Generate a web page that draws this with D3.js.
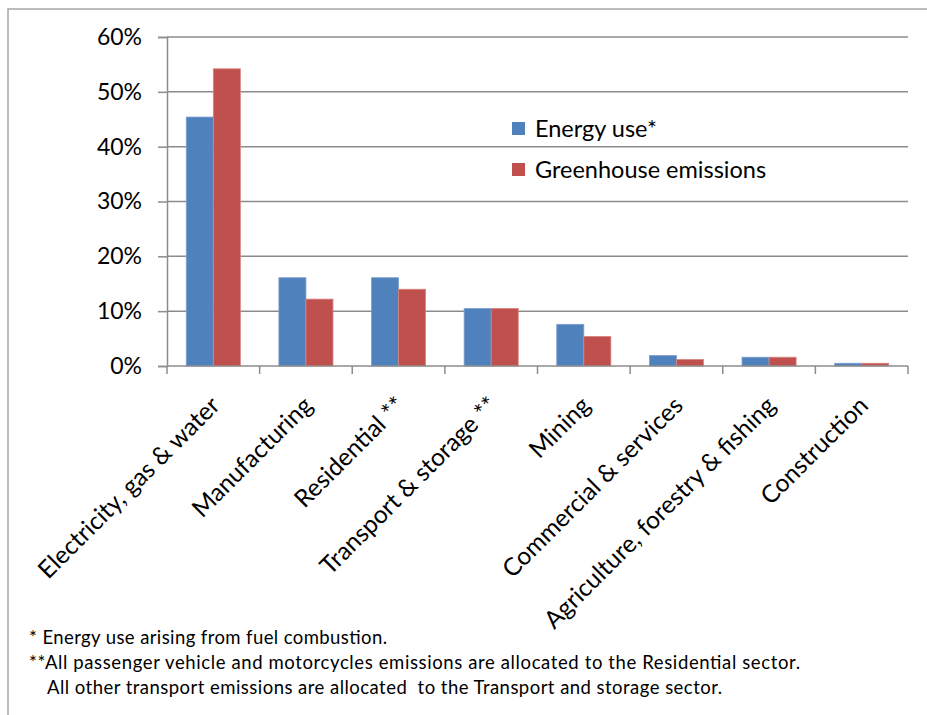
<!DOCTYPE html>
<html>
<head>
<meta charset="utf-8">
<script src="https://cdn.jsdelivr.net/npm/d3@7/dist/d3.min.js"></script>
<style>
  html, body { margin: 0; padding: 0; background: #fff; }
  svg { display: block; }
  text { font-family: Lato, "Open Sans", sans-serif; fill: #000; }
  .note { white-space: pre; }
</style>
</head>
<body>
<svg id="chart" width="927" height="715"></svg>
<script>
// Share of energy use and greenhouse emissions by sector
const categories = [
  "Electricity, gas & water",
  "Manufacturing",
  "Residential **",
  "Transport & storage **",
  "Mining",
  "Commercial & services",
  "Agriculture, forestry & fishing",
  "Construction"
];
const seriesNames = ["Energy use*", "Greenhouse emissions"];
const energyUse = [0.454, 0.161, 0.161, 0.105, 0.076, 0.019, 0.016, 0.005];
const greenhouse = [0.542, 0.122, 0.140, 0.105, 0.054, 0.012, 0.016, 0.005];
const yTicks = [0, 0.1, 0.2, 0.3, 0.4, 0.5, 0.6];
const colors = ["#4F81BD", "#C0504D"];
const footnotes = [
  "* Energy use arising from fuel combustion.",
  "**All passenger vehicle and motorcycles emissions are allocated to the Residential sector.",
  "All other transport emissions are allocated  to the Transport and storage sector."
];

const svg = d3.select("#chart");
const plot = { left: 167, right: 908, top: 37, bottom: 366 };
const gridColor = "#8c8c8c";

// outer frame
svg.append("rect")
  .attr("x", 8).attr("y", 9)
  .attr("width", 1000).attr("height", 1000)
  .attr("fill", "none").attr("stroke", "#a6a6a6").attr("stroke-width", 1.5);

const x0 = d3.scaleBand().domain(categories).range([plot.left, plot.right]);
const step = x0.step();
const pad = step * 0.208;
const x1 = d3.scaleBand().domain(seriesNames).range([pad, step - pad]);
const y = d3.scaleLinear().domain([0, 0.6]).range([plot.bottom, plot.top]);

// horizontal gridlines
svg.append("g").selectAll("line").data(yTicks.slice(1)).join("line")
  .attr("x1", plot.left).attr("x2", plot.right)
  .attr("y1", d => y(d)).attr("y2", d => y(d))
  .attr("stroke", gridColor).attr("stroke-width", 1.5);

// y axis
const yAxis = svg.append("g")
  .attr("transform", `translate(${plot.left},0)`)
  .call(d3.axisLeft(y).tickValues(yTicks).tickFormat(d3.format(".0%")).tickSize(9).tickPadding(16));
yAxis.select(".domain").attr("stroke", gridColor).attr("stroke-width", 1.5);
yAxis.selectAll(".tick line").attr("stroke", gridColor).attr("stroke-width", 1.5);
yAxis.selectAll(".tick text")
  .attr("font-size", 23).attr("font-family", "Lato, sans-serif").attr("fill", "#000");

// bars
const rows = categories.map((c, i) => ({ cat: c, vals: [energyUse[i], greenhouse[i]] }));
const groups = svg.append("g").selectAll("g").data(rows).join("g")
  .attr("transform", d => `translate(${x0(d.cat)},0)`);
groups.selectAll("rect").data(d => d.vals.map((v, k) => ({ name: seriesNames[k], v, k })))
  .join("rect")
  .attr("x", d => x1(d.name))
  .attr("width", x1.bandwidth())
  .attr("y", d => y(d.v))
  .attr("height", d => y(0) - y(d.v))
  .attr("fill", d => colors[d.k])
  .attr("stroke", d => d.k === 0 ? "#7f9fcf" : "#d98582")
  .attr("stroke-width", 0.8);

// x axis baseline and category ticks
const xAxisG = svg.append("g");
xAxisG.append("line")
  .attr("x1", plot.left).attr("x2", plot.right)
  .attr("y1", y(0)).attr("y2", y(0))
  .attr("stroke", gridColor).attr("stroke-width", 1.5);
const bounds = categories.map(c => x0(c)).concat([plot.right]);
xAxisG.selectAll(".xt").data(bounds).join("line")
  .attr("class", "xt")
  .attr("x1", d => d).attr("x2", d => d)
  .attr("y1", y(0)).attr("y2", y(0) + 8)
  .attr("stroke", gridColor).attr("stroke-width", 1.5);

// rotated category labels
xAxisG.selectAll(".xl").data(categories).join("text")
  .attr("class", "xl")
  .attr("text-anchor", "end")
  .attr("font-size", 24.5)
  .attr("transform", d => `translate(${x0(d) + step / 2 + 8},${y(0) + 41}) rotate(-45)`)
  .text(d => d);

// legend
const legend = svg.append("g").attr("transform", "translate(512,122)");
const li = legend.selectAll("g").data(seriesNames).join("g")
  .attr("transform", (d, i) => `translate(0,${i * 41})`);
li.append("rect").attr("width", 13).attr("height", 13).attr("fill", (d, i) => colors[i]);
li.append("text").attr("x", 23).attr("y", 15).attr("font-size", 23.5).text(d => d);

// footnotes, fitted to their line widths
const noteX = [29, 29, 47];
const noteW = [358, 771, 675];
svg.append("g").selectAll("text").data(footnotes).join("text")
  .attr("class", "note")
  .attr("x", (d, i) => noteX[i])
  .attr("y", (d, i) => 644 + i * 25)
  .attr("font-size", 18.5)
  .attr("textLength", (d, i) => noteW[i])
  .attr("lengthAdjust", "spacing")
  .text(d => d);
</script>
</body>
</html>
